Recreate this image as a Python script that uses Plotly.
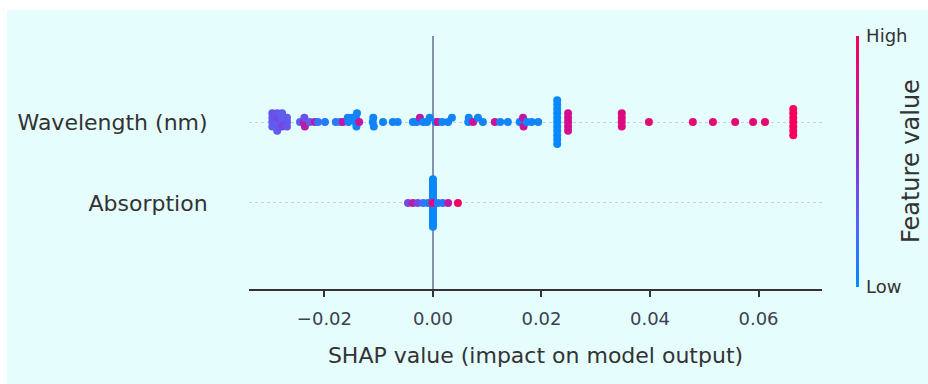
import numpy as np
import plotly.graph_objects as go

# ---------------- data ----------------
features = ["Absorption", "Wavelength (nm)"]

wavelength_shap = [
    -0.0296, -0.0296, -0.0296, -0.0296,
    -0.0287, -0.0287, -0.0287, -0.0287, -0.0287,
    -0.0278, -0.0278, -0.0278, -0.0278,
    -0.0269, -0.0269, -0.0269,
    -0.0245, -0.0238, -0.0237, -0.0236, -0.0227, -0.0218, -0.0212, -0.0199,
    -0.0179, -0.0171, -0.0166, -0.0157, -0.0156, -0.0149, -0.0143, -0.0142, -0.0141, -0.0140, -0.0136,
    -0.0111, -0.0110, -0.0109, -0.0092, -0.0074, -0.0065,
    -0.0037, -0.0030, -0.0024, -0.0018, -0.0011, -0.0006, 0.0005, 0.0009, 0.0017,
    0.0028, 0.0035, 0.0065, 0.0066, 0.0074, 0.0083, 0.0092, 0.0114, 0.0124, 0.0138,
    0.0160, 0.0161, 0.0166, 0.0167, 0.0173, 0.0182, 0.0194,
    0.0229, 0.0229, 0.0229, 0.0229, 0.0229, 0.0229, 0.0229, 0.0229, 0.0229, 0.0229, 0.0229,
    0.0249, 0.0249, 0.0249, 0.0249, 0.0249,
    0.0348, 0.0348, 0.0348, 0.0348,
    0.0398, 0.0479, 0.0516, 0.0557, 0.0590, 0.0612,
    0.0664, 0.0664, 0.0664, 0.0664, 0.0664, 0.0664, 0.0664,
]
wavelength_feat = [
    0.30, 0.32, 0.30, 0.35,
    0.30, 0.40, 0.30, 0.33, 0.30,
    0.32, 0.30, 0.42, 0.30,
    0.35, 0.30, 0.33,
    0.25, 0.70, 0.35, 0.70, 0.30, 0.70, 0.15, 0.10,
    0.10, 0.15, 0.75, 0.10, 0.05, 0.05, 0.05, 0.05, 0.05, 0.05, 0.75,
    0.05, 0.05, 0.05, 0.05, 0.05, 0.05,
    0.05, 0.05, 0.70, 0.05, 0.05, 0.05, 0.05, 0.80, 0.05,
    0.05, 0.05, 0.05, 0.05, 0.75, 0.05, 0.05, 0.75, 0.05, 0.05,
    0.05, 0.05, 0.75, 0.75, 0.05, 0.05, 0.05,
    0.02, 0.02, 0.02, 0.02, 0.02, 0.02, 0.02, 0.02, 0.02, 0.02, 0.02,
    0.80, 0.80, 0.80, 0.80, 0.80,
    0.85, 0.85, 0.85, 0.85,
    0.88, 0.88, 0.88, 0.88, 0.88, 0.88,
    0.97, 0.97, 0.97, 0.97, 0.97, 0.97, 0.97,
]

absorption_shap = [
    0.0, 0.0, 0.0, 0.0, 0.0, 0.0, 0.0, 0.0, 0.0, 0.0, 0.0,
    0.0, 0.0, 0.0, 0.0, 0.0, 0.0, 0.0, 0.0, 0.0, 0.0,
    -0.0046, -0.0037, -0.0028, -0.0018, -0.0009, -0.0001, 0.0009, 0.0018, 0.0028, 0.0046,
]
absorption_feat = [
    0.02, 0.02, 0.02, 0.02, 0.02, 0.02, 0.02, 0.02, 0.02, 0.02, 0.02,
    0.02, 0.02, 0.02, 0.02, 0.02, 0.02, 0.02, 0.02, 0.02, 0.02,
    0.40, 0.72, 0.40, 0.15, 0.10, 0.85, 0.10, 0.10, 0.70, 0.95,
]

x_ticks = [-0.02, 0.0, 0.02, 0.04, 0.06]
x_tick_text = ["\u22120.02", "0.00", "0.02", "0.04", "0.06"]

# ---------------- beeswarm layout (SHAP style) ----------------
def beeswarm(values, row_height=0.36, nbins=100):
    v = np.asarray(values, dtype=float)
    quant = np.round(nbins * (v - v.min()) / (v.max() - v.min() + 1e-8))
    inds = np.argsort(quant, kind="stable")
    ys = np.zeros(len(v))
    layer, last = 0, None
    for i in inds:
        if quant[i] != last:
            layer = 0
        ys[i] = np.ceil(layer / 2) * ((layer % 2) * 2 - 1)
        layer += 1
        last = quant[i]
    ys *= 0.9 * (row_height / np.max(ys + 1))
    return ys

colorscale = [
    [0.0, "#008bfb"],
    [0.25, "#5566f6"],
    [0.5, "#8a34d6"],
    [0.75, "#c8139e"],
    [1.0, "#ff0052"],
]

BG = "#e6fdfd"
TXT = "#333333"
FONT = "DejaVu Sans"

fig = go.Figure()
rows = [(absorption_shap, absorption_feat, 0), (wavelength_shap, wavelength_feat, 1)]
for shap_vals, feat_vals, pos in rows:
    ys = beeswarm(shap_vals)
    fig.add_trace(go.Scatter(
        x=shap_vals, y=pos + ys, mode="markers",
        marker=dict(size=8, color=feat_vals, coloraxis="coloraxis", line=dict(width=0)),
        showlegend=False, hoverinfo="x",
    ))

L, R, T, B = 249, 106, 36, 95
W, H = 928, 384
pw, ph = W - L - R, H - T - B

fig.update_layout(
    width=W, height=H, autosize=False,
    margin=dict(l=L, r=R, t=T, b=B, pad=0),
    paper_bgcolor="white", plot_bgcolor=BG,
    font=dict(family=FONT, color=TXT),
    shapes=[dict(type="rect", xref="paper", yref="paper", layer="below",
                 x0=(7 - L) / pw, x1=(W - L) / pw + 0.01,
                 y0=(H - B - H) / ph - 0.01, y1=(H - B - 10) / ph,
                 fillcolor=BG, line=dict(width=0))],
    annotations=[dict(text="Feature value", xref="paper", yref="paper",
                      x=(926 - L) / pw, y=(H - B - 161) / ph, xanchor="right", yanchor="middle",
                      textangle=-90, showarrow=False, borderpad=0,
                      font=dict(size=24, color=TXT))],
    xaxis=dict(
        range=[-0.0339, 0.0717], tickvals=x_ticks, ticktext=x_tick_text,
        showline=True, linecolor="#333333", linewidth=2,
        ticks="outside", ticklen=6, tickwidth=1.5, tickcolor="#333333",
        tickfont=dict(size=18, color="#3a4150"), ticklabelstandoff=6,
        showgrid=False, zeroline=True, zerolinecolor="#8591ad", zerolinewidth=2,
        title=dict(text="SHAP value (impact on model output)", font=dict(size=22, color=TXT), standoff=20),
    ),
    yaxis=dict(
        range=[-1.0625, 2.0625], tickvals=[0, 1], ticktext=features,
        ticks="outside", ticklen=36, tickcolor="rgba(0,0,0,0)",
        tickfont=dict(size=22, color=TXT),
        showgrid=True, gridcolor="#c9d3d3", griddash="dot", gridwidth=1,
        zeroline=False, showline=False,
    ),
    coloraxis=dict(
        cmin=0, cmax=1, colorscale=colorscale,
        colorbar=dict(
            x=(856 - L) / pw, xanchor="left", xpad=0,
            y=(H - B - 161.5) / ph, yanchor="middle", ypad=0,
            lenmode="pixels", len=251, thickness=3, outlinewidth=0,
            tickvals=[0, 1], ticktext=["Low", "High"],
            ticks="outside", ticklen=4, tickcolor="rgba(0,0,0,0)",
            tickfont=dict(size=18, color=TXT),
        ),
    ),
)

fig.write_html("out.html")
